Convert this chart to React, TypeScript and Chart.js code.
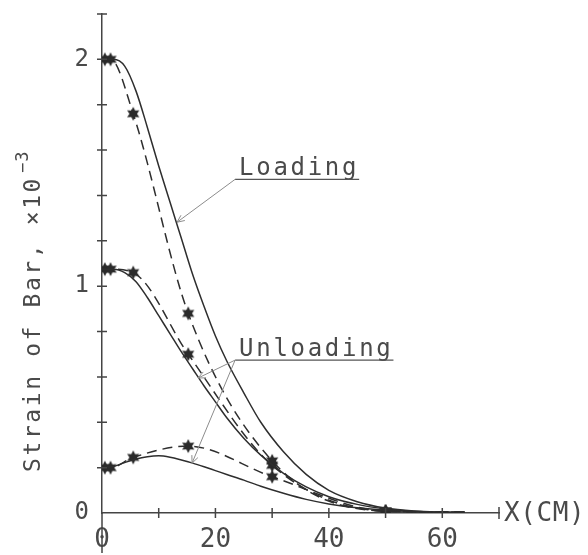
import React, { useEffect, useRef } from 'react';
import { Chart, registerables } from 'chart.js';

Chart.register(...registerables);

// Computed strain distributions (solid curves), X in cm, strain in 10^-3
const calcX = [0, 2, 4, 6, 8, 10, 12, 14, 16, 18, 20, 22, 25, 28, 32, 36, 40, 45, 50, 55, 60, 64];
const loadingCalc = [2.0, 2.0, 1.97, 1.86, 1.7, 1.53, 1.37, 1.21, 1.05, 0.91, 0.78, 0.67, 0.53, 0.4, 0.27, 0.17, 0.1, 0.05, 0.022, 0.009, 0.004, 0.002];
const midCalc = [1.075, 1.075, 1.06, 1.02, 0.95, 0.87, 0.79, 0.71, 0.635, 0.56, 0.49, 0.42, 0.33, 0.255, 0.175, 0.115, 0.072, 0.038, 0.018, 0.008, 0.003, 0.002];
const lowCalc = [0.2, 0.205, 0.222, 0.238, 0.248, 0.252, 0.246, 0.234, 0.22, 0.204, 0.187, 0.17, 0.145, 0.118, 0.087, 0.06, 0.04, 0.023, 0.012, 0.006, 0.003, 0.002];

// Measured strains (dashed curves with star markers)
const measX = [0, 0.5, 1.5, 5.5, 15.2, 30, 50, 64];
const loadingMeas = [2.0, 2.0, 2.0, 1.76, 0.88, 0.23, 0.008, 0.004];
const midMeas = [1.075, 1.075, 1.075, 1.06, 0.7, 0.21, 0.008, 0.004];
const lowMeas = [0.2, 0.2, 0.2, 0.245, 0.295, 0.16, 0.008, 0.004];
const measMarked = [false, true, true, true, true, true, true, false];

// Axis ticks
const xLabelled = [0, 20, 40, 60];
const yLabelled = [0, 1, 2];

const TEXT = '#4a4a4a';
const INK = '#2e2e2e';
const MONO = "'DejaVu Sans Mono', monospace";

function pairs(xs: number[], ys: number[]) {
  return xs.map((x, i) => ({ x, y: ys[i] }));
}

function makeStar(r: number, color: string) {
  const c = document.createElement('canvas');
  const s = Math.ceil(r * 2 + 2);
  c.width = s;
  c.height = s;
  const g = c.getContext('2d')!;
  g.translate(s / 2, s / 2);
  g.beginPath();
  for (let i = 0; i < 12; i++) {
    const a = -Math.PI / 2 + (i * Math.PI) / 6;
    const rr = i % 2 === 0 ? r : r * 0.55;
    g.lineTo(Math.cos(a) * rr, Math.sin(a) * rr);
  }
  g.closePath();
  g.fillStyle = color;
  g.fill();
  return c;
}

function arrow(ctx: CanvasRenderingContext2D, x0: number, y0: number, x1: number, y1: number) {
  ctx.beginPath();
  ctx.moveTo(x0, y0);
  ctx.lineTo(x1, y1);
  ctx.stroke();
  const ang = Math.atan2(y1 - y0, x1 - x0);
  const len = 8;
  const spread = 0.42;
  ctx.beginPath();
  ctx.moveTo(x1 - len * Math.cos(ang - spread), y1 - len * Math.sin(ang - spread));
  ctx.lineTo(x1, y1);
  ctx.lineTo(x1 - len * Math.cos(ang + spread), y1 - len * Math.sin(ang + spread));
  ctx.stroke();
}

const isLabelled = (list: number[], v: number) => list.some((t) => Math.abs(t - v) < 1e-9);

const decorations = {
  id: 'decorations',
  afterDraw(chart: any) {
    const { ctx, chartArea } = chart;
    const xs = chart.scales.x;
    const ys = chart.scales.y;
    const ax = chartArea.left;
    const ay = chartArea.bottom;
    ctx.save();

    // tick marks crossing the axes
    ctx.strokeStyle = '#444';
    ctx.lineWidth = 1.5;
    ctx.beginPath();
    for (const t of ys.ticks) {
      if (Math.abs(t.value) < 1e-9) continue;
      const py = ys.getPixelForValue(t.value);
      ctx.moveTo(ax - 5, py);
      ctx.lineTo(ax + 5, py);
    }
    for (const t of xs.ticks) {
      if (Math.abs(t.value) < 1e-9) continue;
      const px = xs.getPixelForValue(t.value);
      const h = t.value === xs.max ? 6 : 5;
      ctx.moveTo(px, ay - h);
      ctx.lineTo(px, ay + h);
    }
    // vertical axis continues below the origin
    ctx.moveTo(ax, ay);
    ctx.lineTo(ax, ay + 40);
    ctx.stroke();

    // y axis title
    ctx.fillStyle = TEXT;
    ctx.save();
    ctx.translate(40, 472);
    ctx.rotate(-Math.PI / 2);
    ctx.font = `23px ${MONO}`;
    (ctx as any).letterSpacing = '2.6px';
    ctx.textBaseline = 'alphabetic';
    ctx.textAlign = 'left';
    const main = 'Strain of Bar, ×10';
    ctx.fillText(main, 0, 0);
    const w = ctx.measureText(main).width;
    ctx.font = `17px ${MONO}`;
    (ctx as any).letterSpacing = '1px';
    ctx.fillText('−3', w + 3, -12);
    ctx.restore();

    // x axis title
    ctx.save();
    ctx.font = `26px ${MONO}`;
    (ctx as any).letterSpacing = '0.6px';
    ctx.textBaseline = 'middle';
    ctx.textAlign = 'left';
    ctx.fillText('X(CM)', chartArea.right + 5, ay + 1);
    ctx.restore();

    // curve annotations
    const P = (x: number, y: number) => [xs.getPixelForValue(x), ys.getPixelForValue(y)];
    const note = (text: string, anchor: number[], tips: number[][]) => {
      const [bx, by] = P(anchor[0], anchor[1]);
      ctx.save();
      ctx.font = `24px ${MONO}`;
      (ctx as any).letterSpacing = '2.7px';
      ctx.textBaseline = 'alphabetic';
      ctx.textAlign = 'left';
      ctx.fillStyle = TEXT;
      ctx.fillText(text, bx + 4, by - 4);
      const tw = ctx.measureText(text).width;
      ctx.strokeStyle = '#555';
      ctx.lineWidth = 1.3;
      ctx.beginPath();
      ctx.moveTo(bx, by);
      ctx.lineTo(bx + tw + 4, by);
      ctx.stroke();
      ctx.strokeStyle = '#8c8c8c';
      ctx.lineWidth = 1;
      for (const t of tips) {
        const [tx, ty] = P(t[0], t[1]);
        arrow(ctx, bx, by, tx, ty);
      }
      ctx.restore();
    };
    note('Loading', [23.47, 1.471], [[13.23, 1.282]]);
    note('Unloading', [23.47, 0.674], [[16.94, 0.595], [15.88, 0.22]]);

    ctx.restore();
  },
};

export default function App() {
  const ref = useRef<HTMLCanvasElement | null>(null);

  useEffect(() => {
    const canvas = ref.current;
    if (!canvas) return;
    const star = makeStar(7, '#2a2a2a');

    const solid = (data: { x: number; y: number }[]) => ({
      data,
      borderColor: INK,
      borderWidth: 1.5,
      pointRadius: 0,
      cubicInterpolationMode: 'monotone' as const,
      fill: false,
    });
    const dashed = (data: { x: number; y: number }[]) => ({
      data,
      borderColor: INK,
      borderWidth: 1.5,
      borderDash: [10, 6],
      pointStyle: star,
      pointRadius: (c: any) => (measMarked[c.dataIndex] ? 5 : 0),
      cubicInterpolationMode: 'monotone' as const,
      fill: false,
    });

    const chart = new Chart(canvas, {
      type: 'line',
      data: {
        datasets: [
          solid(pairs(calcX, loadingCalc)),
          solid(pairs(calcX, midCalc)),
          solid(pairs(calcX, lowCalc)),
          dashed(pairs(measX, loadingMeas)),
          dashed(pairs(measX, midMeas)),
          dashed(pairs(measX, lowMeas)),
        ],
      },
      options: {
        animation: false,
        responsive: false,
        layout: { padding: { left: 0, top: 14, right: 89, bottom: 0 } },
        plugins: { legend: { display: false }, tooltip: { enabled: false } },
        scales: {
          x: {
            type: 'linear',
            min: 0,
            max: 70,
            grid: { display: false, drawTicks: false },
            border: { display: true, color: '#444', width: 1.5 },
            ticks: {
              stepSize: 10,
              padding: 12,
              color: TEXT,
              font: { family: 'DejaVu Sans Mono', size: 26 },
              maxRotation: 0,
              autoSkip: false,
              callback: (v: any) => (isLabelled(xLabelled, v) ? String(v) : ''),
            },
            afterFit: (s: any) => {
              s.height = 42;
              s.paddingLeft = 0;
              s.paddingRight = 0;
            },
          },
          y: {
            type: 'linear',
            min: 0,
            max: 2.2,
            grid: { display: false, drawTicks: false },
            border: { display: true, color: '#444', width: 1.5 },
            ticks: {
              stepSize: 0.2,
              padding: 13,
              color: TEXT,
              font: { family: 'DejaVu Sans Mono', size: 24 },
              autoSkip: false,
              callback: (v: any) => (isLabelled(yLabelled, v) ? String(Math.round(v)) : ''),
            },
            afterFit: (s: any) => {
              s.width = 102;
              s.paddingTop = 0;
              s.paddingBottom = 0;
            },
          },
        },
      },
      plugins: [decorations],
    });
    return () => chart.destroy();
  }, []);

  return (
    <div style={{ position: 'fixed', left: 0, top: 0, width: 588, height: 555, background: '#fff' }}>
      <canvas ref={ref} width={588} height={555} style={{ width: 588, height: 555 }} />
    </div>
  );
}
